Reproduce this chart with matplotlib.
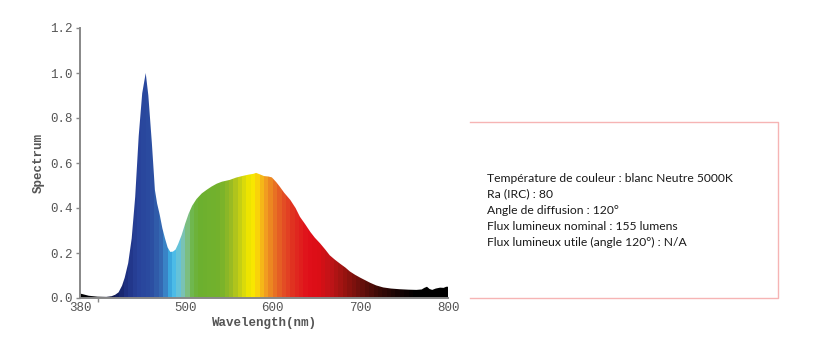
import matplotlib
matplotlib.use("Agg")
import matplotlib.pyplot as plt
import numpy as np
from matplotlib.colors import to_rgb
from matplotlib.lines import Line2D

# Spectre relatif de la LED
longueur_onde = [380, 385, 390, 400, 410, 416, 420, 424, 428, 431, 435, 439, 443, 447,
                 451, 455, 458, 462, 465.5, 468, 471, 474, 477, 480, 483, 486, 489, 492,
                 496, 500, 504, 508, 513, 519, 525, 530, 536, 542, 551, 558, 565, 572,
                 578, 581, 585, 590, 595, 599, 604, 608, 613, 620, 626, 631, 637, 643,
                 648, 654, 660, 665, 671, 677, 683, 688, 694, 700, 706, 711, 718, 726,
                 735, 745, 755, 764, 770, 773, 776, 779, 782, 786, 791, 795, 798, 800]
spectre = [0.020, 0.015, 0.010, 0.006, 0.005, 0.008, 0.014, 0.025, 0.055, 0.090, 0.155,
           0.265, 0.45, 0.72, 0.91, 1.00, 0.90, 0.69, 0.48, 0.42, 0.37, 0.31, 0.265,
           0.225, 0.205, 0.206, 0.215, 0.24, 0.28, 0.33, 0.375, 0.41, 0.44, 0.465,
           0.482, 0.495, 0.508, 0.517, 0.525, 0.535, 0.542, 0.548, 0.552, 0.556, 0.550,
           0.542, 0.540, 0.536, 0.515, 0.495, 0.468, 0.436, 0.40, 0.361, 0.328, 0.293,
           0.268, 0.243, 0.215, 0.19, 0.17, 0.152, 0.135, 0.118, 0.103, 0.090, 0.078,
           0.068, 0.056, 0.047, 0.042, 0.039, 0.037, 0.036, 0.038, 0.045, 0.050, 0.040,
           0.036, 0.042, 0.046, 0.045, 0.050, 0.050]

x_ticks = [380, 500, 600, 700, 800]
y_ticks = [0.0, 0.2, 0.4, 0.6, 0.8, 1.0, 1.2]

infos = [
    "Température de couleur : blanc Neutre 5000K",
    "Ra (IRC) : 80",
    "Angle de diffusion : 120°",
    "Flux lumineux nominal : 155 lumens",
    "Flux lumineux utile (angle 120°) : N/A",
]

# couleurs du degrade (longueur d'onde -> couleur)
stops_wl = [380, 405, 420, 432, 445, 462, 472, 478, 484, 490, 496, 501, 507, 515, 540,
            552, 563, 572, 579, 585, 592, 600, 610, 625, 640, 652, 666, 682, 700, 720,
            742, 762, 800]
stops_col = ["#000000", "#06060e", "#121c5a", "#1e3080", "#28429a", "#2c4ea2", "#3466b0",
             "#3a86c8", "#3cb2e6", "#58c2e8", "#78c4c4", "#80c090", "#70b850", "#6cb030",
             "#74b22c", "#98ba24", "#c8d014", "#ece400", "#fce800", "#f8c412", "#f2a020",
             "#ea7c22", "#e45426", "#e02c20", "#e0101a", "#dc0e16", "#c01418", "#981410",
             "#6a100c", "#3c0a06", "#180404", "#000000", "#000000"]

fig = plt.figure(figsize=(8.2, 3.45), dpi=100)
ax = fig.add_axes([80 / 820, 47 / 345, 368 / 820, 270 / 345])

# bandes de couleur de 5 nm
bandes = np.arange(382.5, 800, 5)
rgb = np.array([to_rgb(c) for c in stops_col])
img = np.stack([np.interp(bandes, stops_wl, rgb[:, k]) for k in range(3)], axis=-1)[None, :, :]

poly = ax.fill_between(longueur_onde, 0, spectre, color="none", lw=0)
im = ax.imshow(img, extent=[380, 800, 0, 1.2], aspect="auto", interpolation="nearest",
               origin="lower", zorder=1)
im.set_clip_path(poly.get_paths()[0], transform=ax.transData)

ax.set_xlim(380, 800)
ax.set_ylim(0, 1.2)

mono = "Liberation Mono"
ax.set_xticks(x_ticks)
ax.set_xticks([400, 800], minor=True)
ax.set_yticks(y_ticks)
ax.set_yticklabels([f"{v:.1f}" for v in y_ticks], family=mono, fontsize=9, color="#555555")
ax.set_xticklabels([str(v) for v in x_ticks], family=mono, fontsize=9, color="#555555")
ax.tick_params(axis="x", which="major", length=0, pad=3)
ax.tick_params(axis="x", which="minor", length=3, width=1, color="#888888")
ax.tick_params(axis="y", length=3, width=1, color="#888888", pad=2)

for s in ["top", "right"]:
    ax.spines[s].set_visible(False)
for s in ["left", "bottom"]:
    ax.spines[s].set_color("#888888")
    ax.spines[s].set_linewidth(1.4)

ax.set_xlabel("Wavelength(nm)", family=mono, fontsize=9, fontweight="bold", color="#555555",
              labelpad=2)
ax.set_ylabel("Spectrum", family=mono, fontsize=9, fontweight="bold", color="#555555",
              labelpad=4)

# cadre a droite (sans bord gauche)
W, H = 820, 345
bx0, bx1, by0, by1 = 470 / W, 778 / W, 1 - 298 / H, 1 - 122 / H
fig.add_artist(Line2D([bx0, bx1, bx1, bx0], [by1, by1, by0, by0],
                      transform=fig.transFigure, color="#f6b4b4", lw=1))

for i, ligne in enumerate(infos):
    fig.text(487 / W, 1 - (178 + i * 16.2) / H, ligne, family="Lato", fontsize=8.7,
             color="#1a1a1a", va="center", ha="left")

fig.savefig("out.png", dpi=100, facecolor="white")
